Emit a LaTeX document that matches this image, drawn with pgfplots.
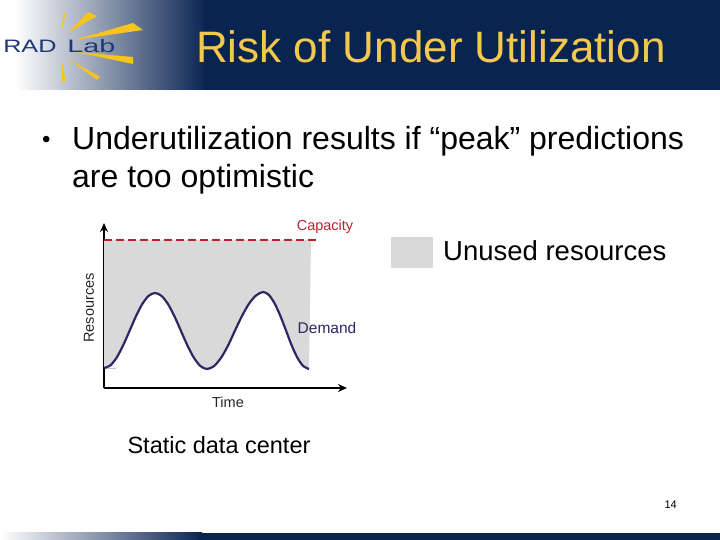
\documentclass[border=0pt]{standalone}
\usepackage{fontspec}
\setmainfont{Liberation Sans}
\usepackage{pgfplots}
\pgfplotsset{compat=1.18}
\usepackage{pgfplotstable}
\usepgfplotslibrary{fillbetween}
\usetikzlibrary{arrows.meta}
\definecolor{navy}{RGB}{10,36,82}
\definecolor{titleyellow}{RGB}{242,201,76}
\definecolor{raysyellow}{RGB}{246,196,30}
\definecolor{logoblue}{RGB}{30,55,120}
\definecolor{fillgray}{RGB}{217,217,217}
\definecolor{capred}{RGB}{190,32,48}
\definecolor{demandcol}{RGB}{44,40,100}

\pgfplotstableread{
x y
0 20
6.4 22.7
12.75 30.6
19.1 42.6
25.5 57
31.9 71.6
38.25 83.9
44.6 92.1
51 95
57.5 92.1
64 83.9
70.5 71.6
77 57
83.5 42.4
90 30.1
96.5 21.9
103 19
110 21.9
117 30.1
124 42.4
131 57.5
138 72
145 84.3
152 92.5
159 96
164.75 93.1
170.5 84.8
176.25 72.3
182 57.5
187.75 42.4
193.5 30.1
199.25 21.9
205 19
}\demand

\begin{document}
\begin{tikzpicture}
\begin{scope}[x=1pt,y=1pt]
\path[use as bounding box] (0,0) rectangle (720,540);
% header band
\shade[left color=white, right color=navy] (15,450) rectangle (206,540);
\fill[navy] (204,450) rectangle (720,540);
% bottom band
\shade[left color=white, right color=navy] (0,0) rectangle (202,7);
\fill[navy] (199,0) rectangle (720,7);
% logo rays
\fill[raysyellow] (61,507) -- (64,527) -- (66,526) -- cycle;
\fill[raysyellow] (68,507) -- (88,528) -- (97,524) -- cycle;
\fill[raysyellow] (74,500) -- (133,517) -- (143,510) -- cycle;
\fill[raysyellow] (76,488) -- (133,483) -- (133,476) -- cycle;
\fill[raysyellow] (67,482) -- (97,460) -- (100,463) -- cycle;
\fill[raysyellow] (62,478) -- (62,458) -- (66,459) -- cycle;
\node[anchor=base west, text=logoblue, xscale=1.4, font=\fontsize{18}{20}\selectfont, inner sep=0pt] at (3,487) {RAD};
\node[anchor=base west, text=logoblue, xscale=1.6, font=\fontsize{18}{20}\selectfont, inner sep=0pt] at (67,487) {Lab};
% title
\node[anchor=base west, text=titleyellow, font=\fontsize{44}{50}\selectfont, inner sep=0pt] at (196,477) {Risk of Under Utilization};
% bullet
\node[anchor=base west, font=\fontsize{24}{28}\selectfont, inner sep=0pt] at (42,392) {\textbullet};
\node[anchor=base west, font=\fontsize{32}{38}\selectfont, inner sep=0pt] at (72,390) {Underutilization results if “peak” predictions};
\node[anchor=base west, font=\fontsize{32}{38}\selectfont, inner sep=0pt] at (72,352) {are too optimistic};
\end{scope}

\begin{axis}[at={(104pt,152pt)}, anchor=south west, scale only axis,
  width=243pt, height=165pt, xmin=0, xmax=243, ymin=0, ymax=165,
  axis lines=left, clip=false,
  axis line style={line width=2pt, -{Stealth[length=9pt,width=8pt]}},
  xtick=\empty, ytick=\empty]
\addplot[draw=none, name path=cap, forget plot] coordinates {(0,148) (207,148)};
\addplot[draw=none, name path=dem, smooth, forget plot] table[x=x,y=y]{\demand};
\addplot[fill=fillgray, draw=none] fill between[of=cap and dem];
\addplot[gray!45, line width=0.8pt] coordinates {(0,20) (12,20)};
\addplot[demandcol, line width=2.2pt, smooth] table[x=x,y=y]{\demand};
\addplot[capred, line width=2pt, dash pattern=on 8pt off 4pt] coordinates {(0,148) (213,148)};
\end{axis}

\begin{scope}[x=1pt,y=1pt]
% chart labels
\node[text=capred, font=\fontsize{14.5}{16}\selectfont, inner sep=0pt] at (325,313) {Capacity};
\node[text=demandcol, font=\fontsize{15.5}{17}\selectfont, inner sep=0pt] at (327,212) {Demand};
\node[text=black!85, font=\fontsize{14.5}{16}\selectfont, inner sep=0pt] at (228,138) {Time};
\node[text=black!85, font=\fontsize{14.5}{16}\selectfont, inner sep=0pt, rotate=90] at (89,232) {Resources};
\node[font=\fontsize{23.5}{26}\selectfont, inner sep=0pt] at (219,95) {Static data center};
% legend for unused resources
\fill[fillgray] (391,272) rectangle (433,303);
\node[anchor=base west, font=\fontsize{27.5}{30}\selectfont, inner sep=0pt] at (443,279) {Unused resources};
% page number
\node[anchor=base east, font=\fontsize{11}{13}\selectfont, inner sep=0pt] at (677,31) {14};
\end{scope}
\end{tikzpicture}
\end{document}
